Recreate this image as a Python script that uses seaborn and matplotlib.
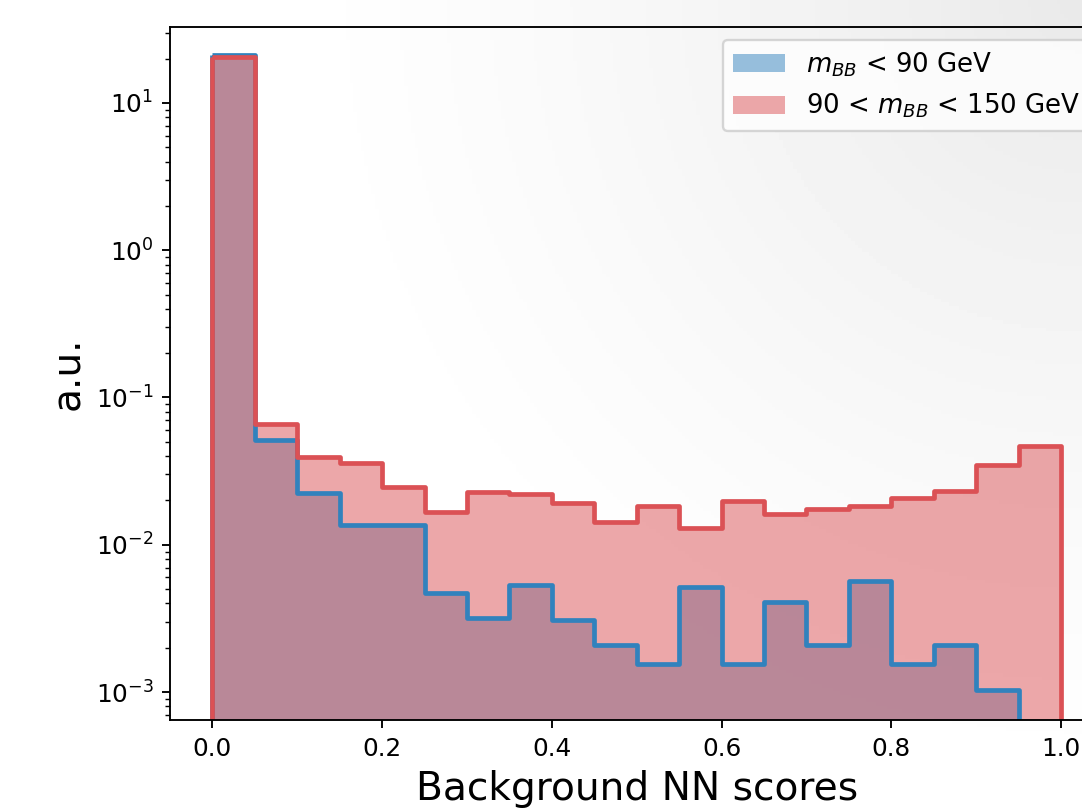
import matplotlib
matplotlib.use("Agg")
import matplotlib.pyplot as plt
import numpy as np
import pandas as pd
import seaborn as sns

# histogram contents (20 bins of width 0.05)
bin_edges = [0.0, 0.05, 0.1, 0.15, 0.2, 0.25, 0.3, 0.35, 0.4, 0.45, 0.5,
             0.55, 0.6, 0.65, 0.7, 0.75, 0.8, 0.85, 0.9, 0.95, 1.0]

# m_BB < 90 GeV (last bin empty)
low_mass = [21.2, 0.0513, 0.0225, 0.0137, 0.0137, 0.0047, 0.0032, 0.0053,
            0.0031, 0.0021, 0.00155, 0.0052, 0.00155, 0.0041, 0.0021,
            0.0057, 0.00155, 0.0021, 0.00104]

# 90 < m_BB < 150 GeV
mid_mass = [20.5, 0.066, 0.0393, 0.0358, 0.0246, 0.0166, 0.0228, 0.0220,
            0.0192, 0.0142, 0.0183, 0.0130, 0.0198, 0.0161, 0.0176, 0.0183,
            0.0207, 0.0231, 0.0347, 0.0467]

labels = [r"$m_{BB}$ < 90 GeV", r"90 < $m_{BB}$ < 150 GeV"]
blue = "#3182bd"
red = "#db5155"

centers = [(a + b) / 2 for a, b in zip(bin_edges[:-1], bin_edges[1:])]
low_df = pd.DataFrame({"score": centers[: len(low_mass)], "w": low_mass})
mid_df = pd.DataFrame({"score": centers, "w": mid_mass})
low_bins = bin_edges[: len(low_mass) + 1]

fig = plt.figure(figsize=(1082 / 170, 810 / 170), dpi=170)
fig.patch.set_alpha(0)

# soft grey shading towards the top-right corner, as in the screenshot
bg = fig.add_axes([0, 0, 1, 1], zorder=-1)
gx, gy = np.meshgrid(np.linspace(0, 1, 300), np.linspace(1, 0, 225))
dist = np.sqrt((1 - gx) ** 2 + ((1 - gy) * 0.75) ** 2)
shade = 1 - 0.085 * np.clip(1 - dist / 0.75, 0, 1) ** 1.3
bg.imshow(shade, cmap="gray", vmin=0, vmax=1, aspect="auto", extent=[0, 1, 0, 1])
bg.axis("off")

ax = fig.add_axes([0.1571, 0.1111, 0.8627, 0.8556])
ax.set_facecolor("none")
ax.set_yscale("log")

# filled histograms first, outlines on top
sns.histplot(data=low_df, x="score", weights="w", bins=low_bins, element="step",
             fill=True, alpha=0.5, color=blue, linewidth=0, label=labels[0], ax=ax)
sns.histplot(data=mid_df, x="score", weights="w", bins=bin_edges, element="step",
             fill=True, alpha=0.5, color=red, linewidth=0, label=labels[1], ax=ax)
sns.histplot(data=low_df, x="score", weights="w", bins=low_bins, element="step",
             fill=True, facecolor="none", color=blue, linewidth=2.0, ax=ax)
sns.histplot(data=mid_df, x="score", weights="w", bins=bin_edges, element="step",
             fill=True, facecolor="none", color=red, linewidth=2.0, ax=ax)

ax.set_xlim(-0.05, 1.05)
ax.set_ylim(10 ** -3.19, 10 ** 1.516)
ax.set_xticks([0.0, 0.2, 0.4, 0.6, 0.8, 1.0])
ax.tick_params(labelsize=10.5)
ax.set_xlabel("Background NN scores", fontsize=16.6)
ax.set_ylabel("a.u.", fontsize=16.6)
ax.legend(loc="upper right", fontsize=11)

fig.savefig("out.png", dpi=170)
